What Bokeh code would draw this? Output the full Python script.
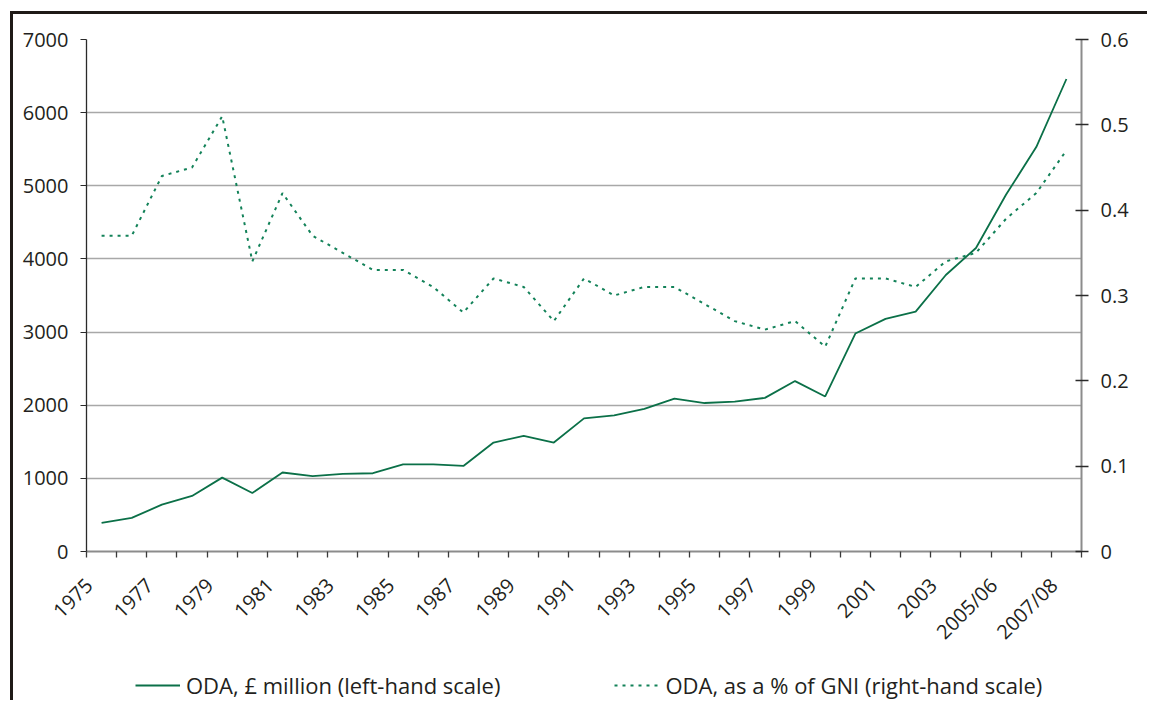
from bokeh.plotting import figure
from bokeh.layouts import column
from bokeh.models import (Range1d, LinearAxis, FixedTicker, Legend, LegendItem,
                          NumeralTickFormatter, Grid, ColumnDataSource)
from bokeh.embed import file_html
from bokeh.resources import INLINE

categories = [str(y) for y in range(1975, 2005)] + ["2005/06", "2006/07", "2007/08"]

oda_gbp_million = [390, 460, 640, 760, 1010, 800, 1080, 1030, 1060, 1070,
                   1190, 1190, 1170, 1490, 1580, 1490, 1820, 1860, 1950, 2090,
                   2030, 2050, 2100, 2330, 2120, 2980, 3180, 3280, 3780, 4150,
                   4880, 5530, 6460]

oda_pct_gni = [0.37, 0.37, 0.44, 0.45, 0.51, 0.34, 0.42, 0.37, 0.35, 0.33,
               0.33, 0.31, 0.28, 0.32, 0.31, 0.27, 0.32, 0.30, 0.31, 0.31,
               0.29, 0.27, 0.26, 0.27, 0.24, 0.32, 0.32, 0.31, 0.34, 0.35,
               0.39, 0.42, 0.47]

left_ticks = [0, 1000, 2000, 3000, 4000, 5000, 6000, 7000]
right_ticks = [0, 0.1, 0.2, 0.3, 0.4, 0.5, 0.6]

label_1 = "ODA, £ million (left-hand scale)"
label_2 = "ODA, as a % of GNI (right-hand scale)"

FONT = "Open Sans"
TXT = "#231f20"
GREEN = "#0b7048"
GREEN2 = "#138259"
SOLID_W = 1.8
DOT_W = 2
DOT_DASH = "3 5"

n = len(categories)
xs = [i + 0.5 for i in range(n)]
src = ColumnDataSource(dict(x=xs, cat=categories, gbp=oda_gbp_million, pct=oda_pct_gni))

p = figure(width=1134, height=650, output_backend="svg", toolbar_location=None,
           x_range=Range1d(0, n), y_range=Range1d(0, 7000),
           min_border_left=73, min_border_right=66, min_border_top=25,
           min_border_bottom=113, background_fill_color="white",
           border_fill_color="white")
p.outline_line_color = None
p.xgrid.visible = False

p.extra_y_ranges = {"pct": Range1d(0, 0.6)}

# grids
p.ygrid.ticker = FixedTicker(ticks=left_ticks[1:-1])
p.ygrid.grid_line_color = "#a8a8a8"
p.ygrid.grid_line_width = 1.3
top_grid = Grid(dimension=1, ticker=FixedTicker(ticks=[7000]),
                grid_line_color="#ededed", grid_line_width=1)
p.add_layout(top_grid)

# x axis
xax = p.xaxis[0]
label_pos = [i + 0.08 for i in range(0, n, 2)]
xax.ticker = FixedTicker(ticks=label_pos, minor_ticks=list(range(0, n + 1)))
xax.major_label_overrides = {i + 0.08: categories[i] for i in range(0, n, 2)}
xax.major_label_orientation = 0.7854
xax.major_tick_out = 0
xax.major_tick_in = 0
xax.minor_tick_out = 6
xax.minor_tick_in = 0
xax.minor_tick_line_color = "#3a3a3a"
xax.minor_tick_line_width = 1.3
xax.axis_line_color = "#8c8c8c"
xax.axis_line_width = 2
xax.major_label_standoff = 24
xax.major_label_text_font = FONT
xax.major_label_text_font_size = "20px"
xax.major_label_text_color = TXT

# left axis
yax = p.yaxis[0]
yax.ticker = FixedTicker(ticks=left_ticks)
yax.axis_line_color = "#2a2a2a"
yax.axis_line_width = 1.3
yax.major_tick_out = 6
yax.major_tick_in = 0
yax.major_tick_line_color = "#2a2a2a"
yax.minor_tick_line_color = None
yax.major_label_standoff = 12
yax.major_label_text_font = FONT
yax.major_label_text_font_size = "20px"
yax.major_label_text_color = TXT

# right axis
rax = LinearAxis(y_range_name="pct", ticker=FixedTicker(ticks=right_ticks),
                 formatter=NumeralTickFormatter(format="0.[0]"))
rax.axis_line_color = "#8c8c8c"
rax.axis_line_width = 2
rax.major_tick_out = 7
rax.major_tick_in = 6
rax.major_tick_line_color = "#2a2a2a"
rax.major_tick_line_width = 1.3
rax.minor_tick_line_color = None
rax.major_label_standoff = 12
rax.major_label_text_font = FONT
rax.major_label_text_font_size = "20px"
rax.major_label_text_color = TXT
p.add_layout(rax, "right")

p.line("x", "gbp", source=src, line_color=GREEN, line_width=SOLID_W)
p.line("x", "pct", source=src, y_range_name="pct", line_color=GREEN2,
       line_width=DOT_W, line_dash=DOT_DASH)

# legend strip (separate figure so the legend is not clipped by the chart frame);
# its lines use the same data but fall outside its (empty) view, only the key shows
lg = figure(width=1134, height=36, output_backend="svg", toolbar_location=None,
            x_range=Range1d(0, n), y_range=Range1d(-10, -9),
            min_border=0, min_border_left=0, min_border_right=0,
            min_border_top=0, min_border_bottom=0,
            background_fill_color="white", border_fill_color="white")
lg.outline_line_color = None
lg.axis.visible = False
lg.grid.visible = False
k1 = lg.line("x", "gbp", source=src, line_color=GREEN, line_width=SOLID_W)
k2 = lg.line("x", "pct", source=src, line_color=GREEN2, line_width=DOT_W,
             line_dash=DOT_DASH)
legend = Legend(items=[LegendItem(label=label_1, renderers=[k1]),
                       LegendItem(label=label_2, renderers=[k2])],
                orientation="horizontal", location=(49, 0),
                glyph_width=45, glyph_height=20, label_height=28,
                label_standoff=6, spacing=114, padding=0, margin=0,
                border_line_color=None, background_fill_alpha=0,
                label_text_font=FONT, label_text_font_size="22px",
                label_text_color=TXT)
lg.add_layout(legend, "center")

layout = column(p, lg, spacing=0)
layout.styles = {"border-top": "3px solid #1f1a17", "border-left": "3px solid #1f1a17",
                 "margin-top": "11px", "margin-left": "10px"}

open("out.html", "w").write(file_html(layout, INLINE))
